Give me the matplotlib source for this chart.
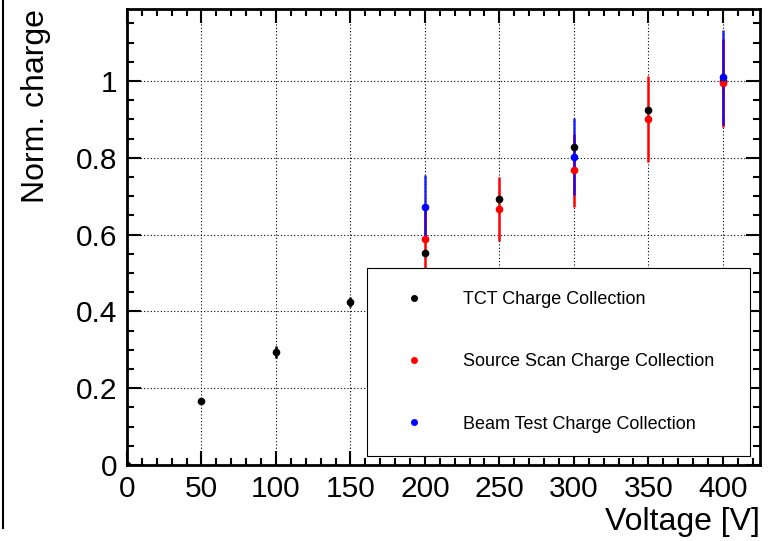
import numpy as np
import matplotlib.pyplot as plt
from matplotlib.lines import Line2D
from matplotlib.ticker import MultipleLocator, FormatStrFormatter

plt.rcParams['font.family'] = ['Liberation Sans', 'DejaVu Sans']

# TCT
tct_v = [0, 50, 100, 150, 200, 250, 300, 350, 400]
tct_q = [0.0, 0.167, 0.294, 0.425, 0.552, 0.692, 0.827, 0.924, 1.0]
tct_err = [0.0, 0.008, 0.015, 0.013, 0.0, 0.0, 0.0, 0.0, 0.0]

# Source scan
src_v = [200, 250, 300, 350, 400]
src_q = [0.588, 0.667, 0.768, 0.901, 0.995]
src_err = [0.08, 0.083, 0.095, 0.112, 0.115]

# Beam test
bt_v = [200, 300, 400]
bt_q = [0.671, 0.803, 1.01]
bt_err = [0.083, 0.100, 0.124]

fig = plt.figure(figsize=(7.69, 5.41), dpi=100)
ax = fig.add_axes([127 / 769, 1 - 465 / 541, (760 - 127) / 769, (465 - 9) / 541])

ax.errorbar(src_v, src_q, yerr=src_err, fmt='none', ecolor='red', elinewidth=1.8, zorder=3)
ax.errorbar(bt_v, bt_q, yerr=bt_err, fmt='none', ecolor='blue', elinewidth=1.8, alpha=0.85, zorder=3)
ax.errorbar(tct_v, tct_q, yerr=tct_err, fmt='none', ecolor='black', elinewidth=1.8, zorder=3)
ax.plot(tct_v, tct_q, 'o', color='black', ms=4.5, zorder=4, label='TCT Charge Collection')
ax.plot(src_v, src_q, 'o', color='red', ms=4.5, zorder=5, label='Source Scan Charge Collection')
ax.plot(bt_v, bt_q, 'o', color='blue', ms=4.5, zorder=6, label='Beam Test Charge Collection')

ax.set_xlim(0, 425)
ax.set_ylim(0, 1.1875)
ax.xaxis.set_major_locator(MultipleLocator(50))
ax.xaxis.set_minor_locator(MultipleLocator(10))
ax.yaxis.set_major_locator(MultipleLocator(0.2))
ax.yaxis.set_minor_locator(MultipleLocator(0.05))
ax.yaxis.set_major_formatter(FormatStrFormatter('%g'))
ax.tick_params(which='both', direction='in', top=True, right=True, labelsize=21.5)
ax.tick_params(which='major', length=10, width=1.5)
ax.tick_params(which='minor', length=5, width=1.5)
ax.tick_params(axis='x', pad=7)
ax.tick_params(axis='y', pad=7)
for s in ax.spines.values():
    s.set_linewidth(2)
ax.grid(True, which='major', color='black', linestyle=(0, (1, 2)), linewidth=0.8)

ax.set_xlabel('Voltage [V]', fontsize=23, loc='right', labelpad=3)
ax.set_ylabel('Norm. charge', fontsize=23, loc='top', labelpad=18)

leg = ax.legend(loc='lower left', bbox_to_anchor=(367 / 769, 1 - 456 / 541, (750 - 367) / 769, (456 - 269) / 541),
                bbox_transform=fig.transFigure, mode='expand', borderaxespad=0, fontsize=13,
                labelspacing=2.5, borderpad=1.3, handlelength=2.6, handletextpad=1.4,
                fancybox=False, framealpha=1, edgecolor='black', numpoints=1)
leg.get_frame().set_linewidth(0.8)
for h in leg.legend_handles:
    h.set_markersize(4)

fig.add_artist(Line2D([3 / 769, 3 / 769], [1, 1 - 528 / 541], color='black', lw=1.5))

fig.savefig('out.png', dpi=100)
